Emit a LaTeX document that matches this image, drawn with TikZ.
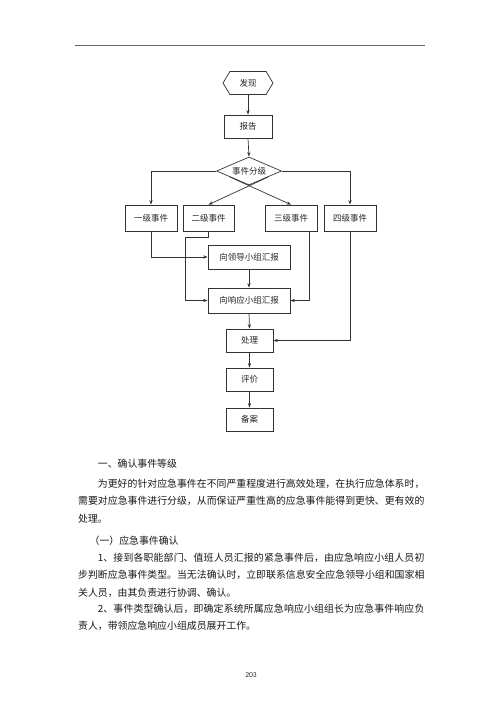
\documentclass[tikz,border=0pt]{standalone}
\usepackage{fontspec}
\newfontfamily\cjk{Noto Sans CJK SC}
\newfontfamily\numf{Carlito}
\usetikzlibrary{shapes.geometric,shapes.symbols,arrows.meta,calc}
\XeTeXlinebreaklocale "zh"
\XeTeXlinebreakskip=0pt plus 1pt
\tikzset{
  ln/.style={draw=black!80, line width=0.7pt},
  arr/.style={ln, -{Stealth[length=4.5pt,width=3.2pt]}},
  box/.style={ln, rectangle, inner sep=0pt, minimum height=23pt, text=black!85,
    font=\cjk\fontsize{8.5}{10}\selectfont},
  para/.style={inner sep=0pt, text width=346.2pt, align=justify, text=black!90,
    font=\cjk\fontsize{9.88}{17.8}\selectfont},
  line1/.style={inner sep=0pt, text=black!90, font=\cjk\fontsize{9.88}{17.8}\selectfont}
}
\begin{document}
\begin{tikzpicture}[x=1pt,y=-1pt]
\useasboundingbox[fill=white] (0,0) rectangle (500,707);
% header rule
\draw[black!60, line width=0.9pt] (75,45.5) -- (425,45.5);

% nodes
\node[box, signal, signal to=west and east, signal pointer angle=118,
      minimum width=50pt, minimum height=23pt] (find) at (248,83) {发现};
\node[box, minimum width=48pt] (report) at (248,126.5) {报告};
\node[box, diamond, aspect=2.3, minimum width=65pt, minimum height=28pt] (dia) at (249,171) {事件分级};
\node[box, minimum width=52pt, minimum height=26pt] (l1) at (151,218) {一级事件};
\node[box, minimum width=51pt, minimum height=26pt] (l2) at (208.5,218) {二级事件};
\node[box, minimum width=52pt, minimum height=26pt] (l3) at (291,218) {三级事件};
\node[box, minimum width=52pt, minimum height=26pt] (l4) at (350,218) {四级事件};
\node[box, minimum width=82pt, minimum height=24pt] (lead) at (249,257) {向领导小组汇报};
\node[box, minimum width=82pt, minimum height=25pt] (resp) at (249,300.5) {向响应小组汇报};
\node[box, minimum width=47pt] (proc) at (249.5,340.5) {处理};
\node[box, minimum width=47pt] (eval) at (249.5,379.5) {评价};
\node[box, minimum width=47pt] (file) at (249.5,419.5) {备案};

% connectors
\draw[arr] (find.south) -- (report.north);
\draw[arr] (report.south) -- (dia.north);
\draw[arr] (dia.west) -| (l1.north);
\draw[arr] (dia.east) -| (l4.north);
\draw[arr] ($(dia.east)!0.42!(dia.south)$) -- (l2.north);
\draw[arr] ($(dia.west)!0.42!(dia.south)$) -- (l3.north);
\draw[arr] (l1.south) |- (lead.west);
\coordinate (j2) at (185,237);
\draw[arr] (l2.south) |- (j2) |- (resp.west);
\coordinate (l3b) at ($(l3.south)+(18,0)$);
\draw[arr] (l3b) |- (resp.east);
\draw[arr] (lead.south) -- (resp.north);
\draw[arr] (resp.south) -- (proc.north);
\draw[arr] (l4.south) |- (proc.east);
\draw[arr] (proc.south) -- (eval.north);
\draw[arr] (eval.south) -- (file.north);

% body text
\node[line1, anchor=base west] (h1) at (78,467) {\hspace*{2em}一、确认事件等级};
\node[para, anchor=base west] (p1) at (78,487) {\hspace*{2em}为更好的针对应急事件在不同严重程度进行高效处理，在执行应急体系时，需要对应急事件进行分级，从而保证严重性高的应急事件能得到更快、更有效的处理。};
\node[line1, anchor=base west] (h2) at (89.5,544) {（一）应急事件确认};
\node[para, anchor=base west] (p2) at (78,561) {\hspace*{2em}1、接到各职能部门、值班人员汇报的紧急事件后，由应急响应小组人员初步判断应急事件类型。当无法确认时，立即联系信息安全应急领导小组和国家相关人员，由其负责进行协调、确认。};
\node[para, anchor=base west] (p3) at (78,612) {\hspace*{2em}2、事件类型确认后，即确定系统所属应急响应小组组长为应急事件响应负责人，带领应急响应小组成员展开工作。};
\node[inner sep=0pt, font=\numf\fontsize{7.5}{9}\selectfont, text=black!85] (pg) at (251,675) {203};
\end{tikzpicture}
\end{document}
